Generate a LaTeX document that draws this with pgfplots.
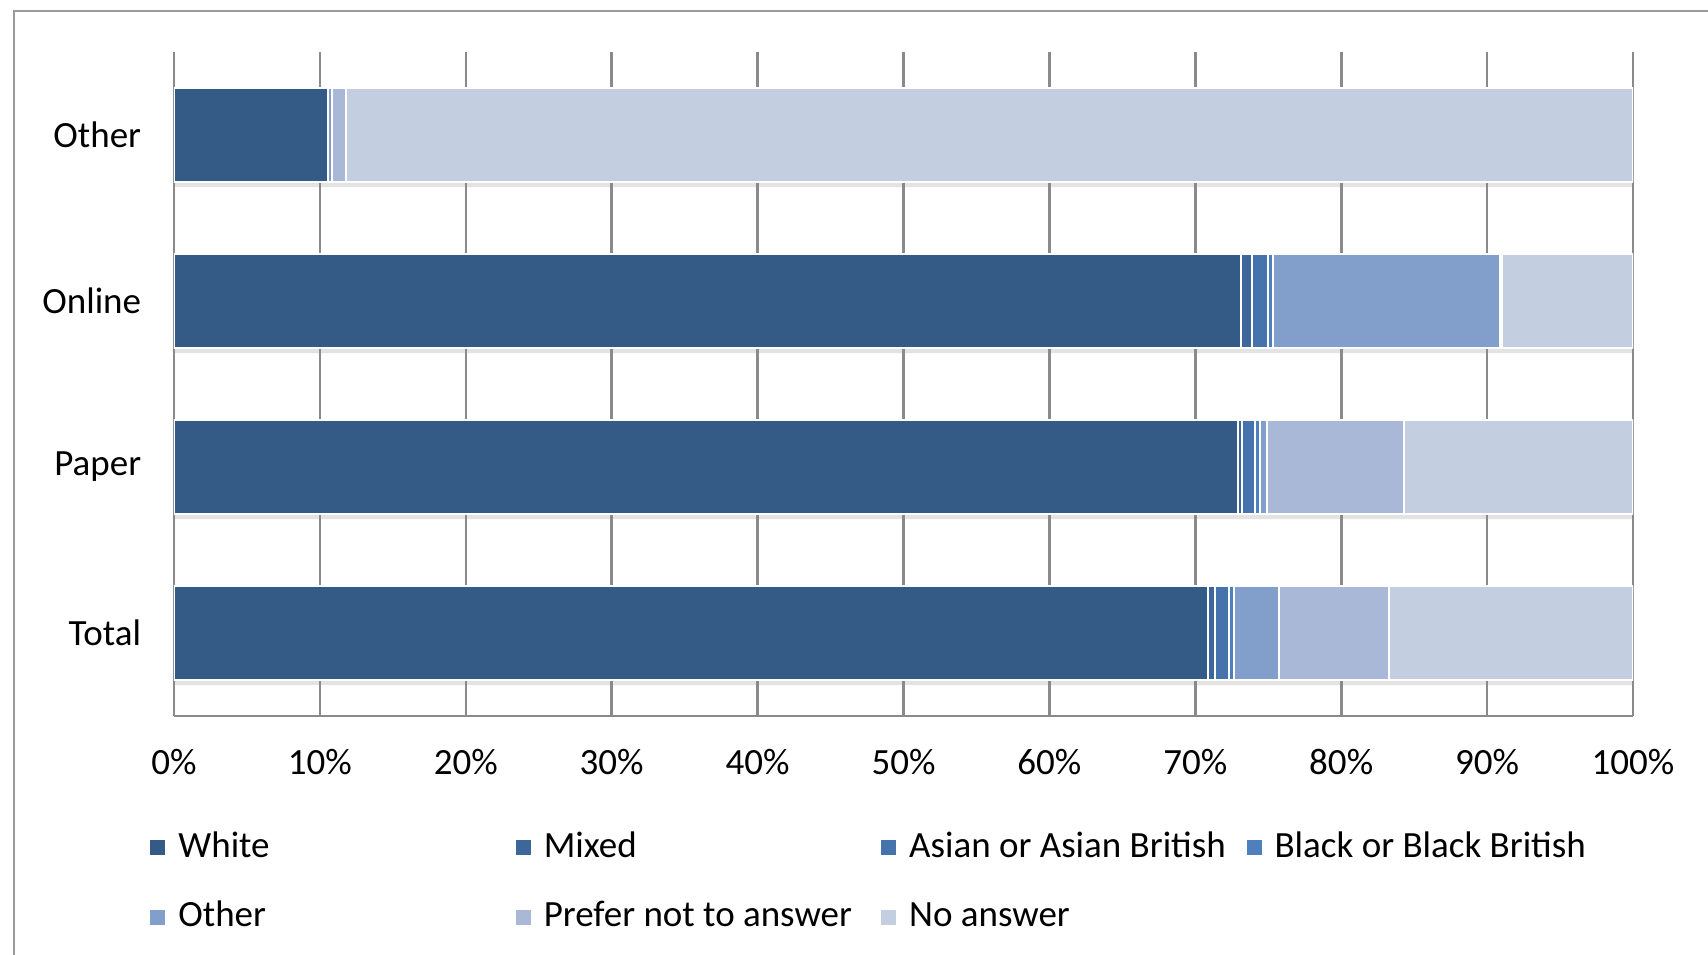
\documentclass[border=0pt]{standalone}
\usepackage{fontspec}
\setmainfont{Carlito}
\usepackage{pgfplots}
\usepackage{pgfplotstable}
\pgfplotsset{compat=1.18}
\definecolor{cWhite}{HTML}{345A86}
\definecolor{cMixed}{HTML}{3D679B}
\definecolor{cAsian}{HTML}{4673AC}
\definecolor{cBlack}{HTML}{4F80BE}
\definecolor{cOther}{HTML}{829FCB}
\definecolor{cPrefer}{HTML}{A9B8D6}
\definecolor{cNo}{HTML}{C4CEE1}
\definecolor{gridgray}{HTML}{8A8A8A}
\definecolor{framegray}{HTML}{9A9A9A}
\pgfplotstableread{
y White Mixed Asian Black Other Prefer NoAns
0 70.9 0.45 0.97 0.32 3.09 7.57 16.7
1 72.9 0.3 0.9 0.3 0.5 9.4 15.7
2 73.1 0.8 1.05 0.35 15.55 0.15 9.0
3 10.55 0 0 0 0.3 0.95 88.2
}\data
\newcommand{\lb}[1]{\makebox[162.2pt][l]{#1}}
\begin{document}
\begin{tikzpicture}
\path[use as bounding box] (-87pt,-119pt) rectangle (767pt,358pt);
\clip (-87pt,-119pt) rectangle (767pt,358pt);
\draw[framegray, line width=1.2pt] (-80pt,-300pt) rectangle (1000pt,352.5pt);
% shadow axis
\begin{axis}[
  scale only axis, width=729.5pt, height=332pt,
  xmin=0, xmax=100, ymin=-0.5, ymax=3.5,
  hide axis, xbar, bar width=46.8pt, bar shift=-2.6pt,
]
\addplot[fill=black!11, draw=none] coordinates {(100.2,0) (100.2,1) (100.2,2) (100.2,3)};
\end{axis}
\begin{axis}[
  scale only axis, width=729.5pt, height=332pt,
  xbar stacked, bar width=46.8pt,
  xmin=0, xmax=100, ymin=-0.5, ymax=3.5,
  axis x line*=bottom, axis y line*=left,
  axis line style={gridgray, line width=1.3pt},
  xmajorgrids, grid style={gridgray, line width=1.3pt},
  major tick length=0pt,
  xtick={0,10,20,30,40,50,60,70,80,90,100},
  xticklabels={0\%,10\%,20\%,30\%,40\%,50\%,60\%,70\%,80\%,90\%,100\%},
  ytick={0,1,2,3}, yticklabels={Total,Paper,Online,Other},
  every tick label/.append style={font=\fontsize{18.5}{22}\selectfont, text=black},
  xticklabel style={yshift=-13.3pt},
  yticklabel style={xshift=-12.9pt},
  legend columns=4,
  legend image code/.code={\fill[#1,draw=none] (0pt,-3.75pt) rectangle (7.5pt,3.75pt);},
  legend style={at={(-0.01645,-0.173)}, anchor=north west, draw=none, fill=none,
    inner sep=0pt, column sep=6.5pt, row sep=18.2pt,
    font=\fontsize{18.5}{22}\selectfont,
    nodes={inner sep=0pt, text height=13pt, text depth=3.5pt}},
]
\addplot[fill=cWhite, draw=white, line width=1pt] table[x=White,y=y] {\data};
\addplot[fill=cMixed, draw=white, line width=1pt] table[x=Mixed,y=y] {\data};
\addplot[fill=cAsian, draw=white, line width=1pt] table[x=Asian,y=y] {\data};
\addplot[fill=cBlack, draw=white, line width=1pt] table[x=Black,y=y] {\data};
\addplot[fill=cOther, draw=white, line width=1pt] table[x=Other,y=y] {\data};
\addplot[fill=cPrefer, draw=white, line width=1pt] table[x=Prefer,y=y] {\data};
\addplot[fill=cNo, draw=white, line width=1pt] table[x=NoAns,y=y] {\data};
\legend{\lb{White},\lb{Mixed},\lb{Asian or Asian British},\lb{Black or Black British},\lb{Other},\lb{Prefer not to answer},\lb{No answer}}
\end{axis}
\end{tikzpicture}
\end{document}
